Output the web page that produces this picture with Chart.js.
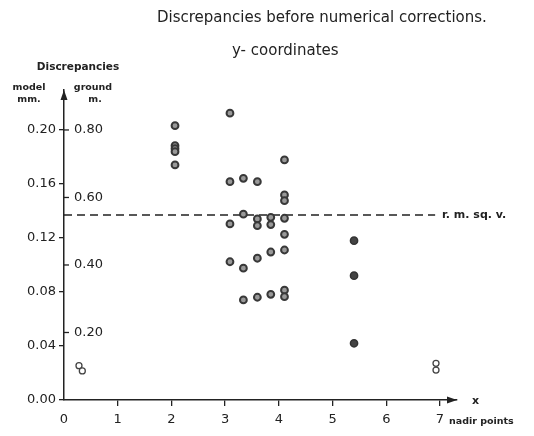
<!DOCTYPE html>
<html>
<head>
<meta charset="utf-8">
<script src="https://cdn.jsdelivr.net/npm/chart.js@4.4.1/dist/chart.umd.min.js"></script>
<style>
  html, body { margin: 0; background: #fff; }
  canvas { display: block; }
</style>
</head>
<body>
<canvas id="chart" width="534" height="436"></canvas>
<script>
// --- data ---
// columns of ring-shaped points (x position, then y values in model mm)
const ringColX = [2.067, 3.09, 3.34, 3.6, 3.85, 4.105];
const ringColY = [
  [0.2032, 0.1884, 0.1861, 0.1839, 0.1741],
  [0.2124, 0.1617, 0.1304, 0.1024],
  [0.1642, 0.1376, 0.0976, 0.0741],
  [0.1617, 0.1341, 0.1291, 0.1050, 0.0761],
  [0.1353, 0.1299, 0.1096, 0.0783],
  [0.1778, 0.1519, 0.1476, 0.1346, 0.1227, 0.1111, 0.0813, 0.0765],
];
// solid points
const solidX = [5.40, 5.40, 5.40];
const solidY = [0.1180, 0.0921, 0.0420];
// open points
const openX = [0.279, 0.341, 6.926, 6.926];
const openY = [0.0254, 0.0215, 0.0272, 0.0222];
// r. m. sq. v. line
const rmsValue = 0.137;
const rmsEndX = 6.91;

const xTicks = [0, 1, 2, 3, 4, 5, 6, 7];
const modelTicks = [0, 0.04, 0.08, 0.12, 0.16, 0.20];
const groundTicks = [0.20, 0.40, 0.60, 0.80];
const groundPerModel = 4; // ground m = 4 x model mm
const xMax = 7.317;
const yMax = 0.2296;

const INK = '#222';
const FONT = '"DejaVu Sans", sans-serif';

const ringPoints = [];
ringColX.forEach((x, i) => ringColY[i].forEach((y) => ringPoints.push({ x, y })));
const toPoints = (xs, ys) => xs.map((x, i) => ({ x, y: ys[i] }));

// texts, arrows and the second scale (ground m.)
const decorPlugin = {
  id: 'decor',
  afterDraw(chart) {
    const { ctx, chartArea: a, scales } = chart;
    const ys = scales.y;
    ctx.save();
    ctx.fillStyle = INK;
    ctx.strokeStyle = INK;

    // titles
    ctx.textBaseline = 'middle';
    ctx.textAlign = 'left';
    ctx.font = '15px ' + FONT;
    ctx.fillText('Discrepancies before numerical corrections.', 157, 18);
    ctx.fillText('y- coordinates', 232, 51);

    // header over the y axis
    ctx.font = 'bold 10.5px ' + FONT;
    ctx.textAlign = 'center';
    ctx.fillText('Discrepancies', 78, 67);
    ctx.font = 'bold 9.5px ' + FONT;
    ctx.fillText('model', 29, 88);
    ctx.fillText('mm.', 29, 100);
    ctx.fillText('ground', 93, 88);
    ctx.fillText('m.', 95, 100);

    // ground scale ticks
    ctx.lineWidth = 1.3;
    ctx.font = '13px ' + FONT;
    ctx.textAlign = 'left';
    groundTicks.forEach((g) => {
      const py = ys.getPixelForValue(g / groundPerModel);
      ctx.beginPath();
      ctx.moveTo(a.left, py);
      ctx.lineTo(a.left + 5, py);
      ctx.stroke();
      ctx.fillText(g.toFixed(2), a.left + 10, py);
    });

    // arrow heads
    ctx.beginPath();
    ctx.moveTo(a.left, a.top);
    ctx.lineTo(a.left - 3.5, a.top + 10);
    ctx.lineTo(a.left + 3.5, a.top + 10);
    ctx.closePath();
    ctx.fill();
    ctx.beginPath();
    ctx.moveTo(a.right, a.bottom);
    ctx.lineTo(a.right - 10, a.bottom - 3.5);
    ctx.lineTo(a.right - 10, a.bottom + 3.5);
    ctx.closePath();
    ctx.fill();

    // axis names and line label
    ctx.font = 'bold 11px ' + FONT;
    ctx.fillText('x', 472, 401);
    ctx.font = 'bold 9.5px ' + FONT;
    ctx.fillText('nadir points', 449, 422);
    ctx.font = 'bold 11px ' + FONT;
    ctx.fillText('r. m. sq. v.', 442, ys.getPixelForValue(rmsValue));
    ctx.restore();
  },
};

new Chart(document.getElementById('chart'), {
  type: 'scatter',
  data: {
    datasets: [
      {
        data: ringPoints,
        pointRadius: 3.4,
        borderWidth: 2,
        borderColor: '#383838',
        backgroundColor: '#999',
      },
      {
        data: toPoints(solidX, solidY),
        pointRadius: 3.6,
        borderWidth: 1.5,
        borderColor: '#333',
        backgroundColor: '#444',
      },
      {
        data: toPoints(openX, openY),
        pointRadius: 3,
        borderWidth: 1.3,
        borderColor: '#444',
        backgroundColor: '#fff',
      },
      {
        type: 'line',
        data: [{ x: 0, y: rmsValue }, { x: rmsEndX, y: rmsValue }],
        borderColor: INK,
        borderWidth: 1.6,
        borderDash: [8, 5],
        pointRadius: 0,
        fill: false,
      },
    ],
  },
  options: {
    responsive: false,
    animation: false,
    devicePixelRatio: 1,
    layout: { padding: { top: 90, right: 77, bottom: 0, left: 0 } },
    plugins: {
      legend: { display: false },
      tooltip: { enabled: false },
    },
    scales: {
      x: {
        type: 'linear',
        min: 0,
        max: xMax,
        afterFit: (s) => { s.height = 36; },
        afterBuildTicks: (s) => { s.ticks = xTicks.map((v) => ({ value: v })); },
        border: { display: true, color: INK, width: 1.5 },
        grid: {
          drawOnChartArea: false,
          drawTicks: true,
          tickLength: 6,
          lineWidth: 1.3,
          color: (c) => (c.index === 0 ? 'rgba(0,0,0,0)' : INK),
        },
        ticks: {
          padding: 6,
          maxRotation: 0,
          color: INK,
          font: { family: FONT, size: 13 },
          callback: (v) => String(v),
        },
      },
      y: {
        type: 'linear',
        min: 0,
        max: yMax,
        afterFit: (s) => { s.width = 64; },
        afterBuildTicks: (s) => { s.ticks = modelTicks.map((v) => ({ value: v })); },
        border: { display: true, color: INK, width: 1.5 },
        grid: {
          drawOnChartArea: false,
          drawTicks: true,
          tickLength: 5,
          lineWidth: 1.3,
          color: INK,
        },
        ticks: {
          padding: 3,
          color: INK,
          font: { family: FONT, size: 13 },
          callback: (v) => v.toFixed(2),
        },
      },
    },
  },
  plugins: [decorPlugin],
});
</script>
</body>
</html>
